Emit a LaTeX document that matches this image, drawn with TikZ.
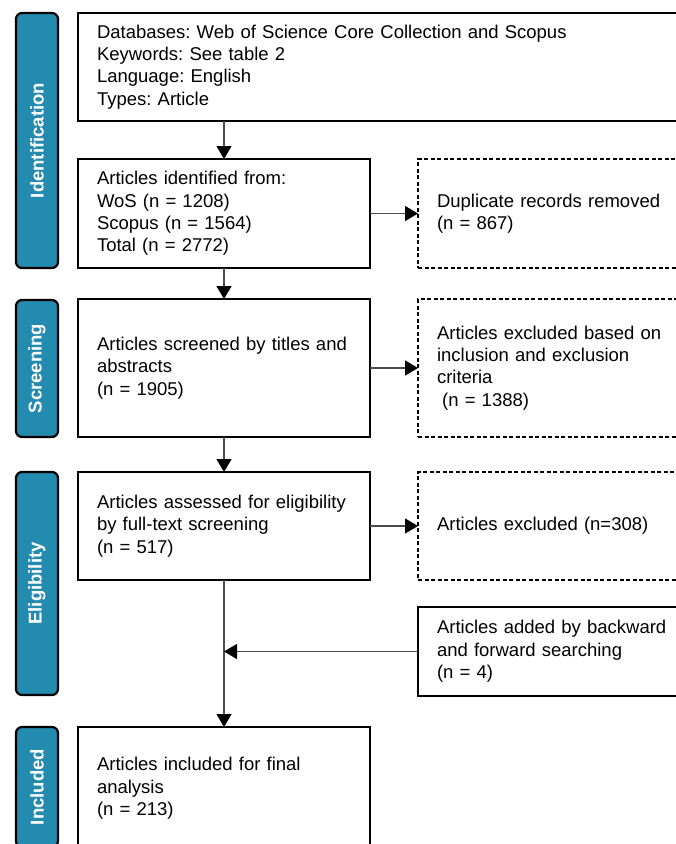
\documentclass[tikz,border=0pt]{standalone}
\usepackage{fontspec}
\setmainfont{Liberation Sans}
\usetikzlibrary{arrows.meta}
\definecolor{tabblue}{RGB}{35,139,176}
\frenchspacing

\begin{document}
\begin{tikzpicture}[x=1pt,y=1pt,
  font=\fontsize{18.5}{22.4}\selectfont,
  box/.style={shape=rectangle,draw=black,line width=2.2pt,anchor=north west,align=left,inner xsep=19pt,inner ysep=0pt,outer sep=0pt},
  dbox/.style={box,line width=1.1pt,dash pattern=on 4pt off 2.5pt},
  tab/.style={shape=rectangle,draw=black,line width=2.2pt,fill=tabblue,rounded corners=6pt,rotate=90,minimum height=42pt,inner sep=0pt,text=white,font=\fontsize{18.5}{22.4}\selectfont\bfseries},
  arr/.style={draw=black!70,line width=1.3pt,-{Triangle[length=13pt,width=15pt,color=black]}}]

\useasboundingbox (0,0) rectangle (676,-844);
\clip (0,0) rectangle (676,-844);

\node[tab,minimum width=255pt] (idtab) at (37,-140.5) {Identification};
\node[tab,minimum width=137pt] (scrtab) at (37,-368.5) {Screening};
\node[tab,minimum width=223pt] (eltab) at (37,-583.5) {Eligibility};
\node[tab,minimum width=120pt] (intab) at (37,-787) {Included};

\node[box,text width=584pt,minimum height=108pt] (db) at (78,-13) {Databases: Web of Science Core Collection and Scopus\\Keywords: See table 2\\Language: English\\Types: Article};
\node[box,text width=254pt,minimum height=109pt] (ident) at (78,-159) {Articles identified from:\\WoS (n = 1208)\\Scopus (n = 1564)\\Total (n = 2772)};
\node[dbox,text width=244pt,minimum height=109pt] (dup) at (418,-159) {Duplicate records removed\\(n = 867)};
\node[box,text width=254pt,minimum height=138pt] (screen) at (78,-299) {Articles screened by titles and\\abstracts\\(n = 1905)};
\node[dbox,text width=244pt,minimum height=138pt] (excl1) at (418,-299) {Articles excluded based on\\inclusion and exclusion\\criteria\\\hspace*{.278em}(n = 1388)};
\node[box,text width=254pt,minimum height=108pt] (assess) at (78,-472) {Articles assessed for eligibility\\by full-text screening\\(n = 517)};
\node[dbox,text width=244pt,minimum height=108pt] (excl2) at (418,-472) {Articles excluded (n=308)};
\node[box,text width=244pt,minimum height=89pt] (added) at (418,-607) {Articles added by backward\\and forward searching\\(n = 4)};
\node[box,text width=254pt,minimum height=123pt] (incl) at (78,-727) {Articles included for final\\analysis\\(n = 213)};

\draw [arr] (db.south -| ident.north) -- (ident.north);
\draw [arr] (ident.east) -- (dup.west);
\draw [arr] (ident.south) -- (screen.north);
\draw [arr] (screen.east) -- (excl1.west);
\draw [arr] (screen.south) -- (assess.north);
\draw [arr] (assess.east) -- (excl2.west);
\draw [arr] (assess.south) -- (incl.north);
\draw [arr] (added.west) -- (added.west -| assess.south);

\end{tikzpicture}
\end{document}
